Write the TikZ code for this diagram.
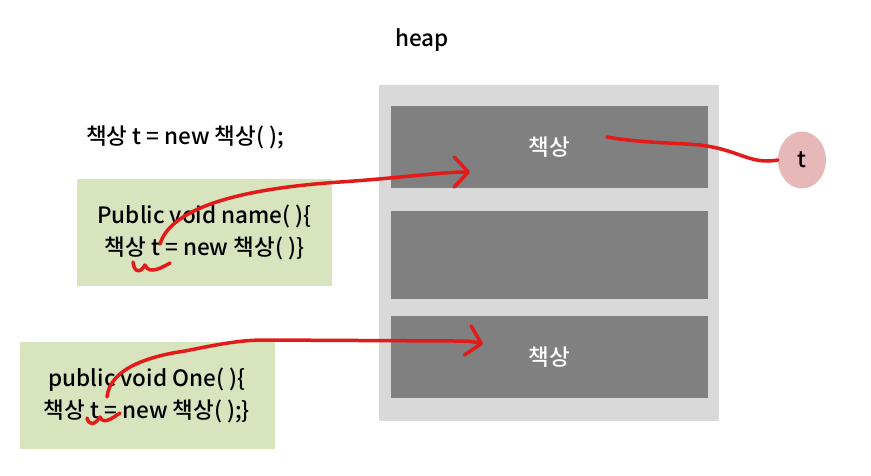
\documentclass[tikz,border=0pt]{standalone}
\usepackage{fontspec}
\setmainfont{Noto Sans CJK KR}[UprightFont=* Medium, BoldFont=* Bold]
\usepackage{xcolor}
\usetikzlibrary{arrows.meta, shapes.geometric}
\definecolor{heapbg}{HTML}{D9D9D9}
\definecolor{objgray}{HTML}{808080}
\definecolor{codegreen}{HTML}{D7E4BD}
\definecolor{refpink}{HTML}{E6B8B7}
\definecolor{penred}{HTML}{E21A1A}

\begin{document}
\begin{tikzpicture}[
  x=1pt, y=-1pt,
  every node/.style={font=\fontsize{22.5}{32}\selectfont},
  obj/.style={fill=objgray, minimum width=317pt, inner sep=0pt, text=white},
  code/.style={fill=codegreen, minimum width=255pt, minimum height=107pt, align=center, inner sep=0pt},
  pen/.style={line width=3.5pt, color=penred, line cap=round, line join=round},
  ar/.style={pen, -{Straight Barb[length=14pt, width=30pt, round]}},
]
\useasboundingbox (0,0) rectangle (871,475);

% Heap - objects
\node (title) at (422,40) {heap};
\node[fill=heapbg, minimum width=340pt, minimum height=336pt, inner sep=0pt] (heap) at (549,253) {};
\node[obj, minimum height=82pt] (desk1) at (549.5,147) {책상};
\node[obj, minimum height=88pt] (desk2) at (549.5,255) {};
\node[obj, minimum height=82pt] (desk3) at (549.5,357) {책상};
\node[ellipse, fill=refpink, minimum width=48pt, minimum height=57pt, inner sep=0pt] (tref) at (802,160) {t};

% Left side - code
\node (decl) at (185,137) {책상 t = new 책상( );};
\node[code] (name) at (204.5,232.5) {Public void name( )\{\\책상 t = new 책상( )\}};
\node[code] (one) at (147,395.5) {\raisebox{4pt}{public void One( )\{}\\\raisebox{4pt}{책상 t = new 책상( );\}}};

\coordinate (t1) at (160,244);
\coordinate (h1) at (470,172);
\coordinate (t2) at (107,397);
\coordinate (h3) at (483,344);
\coordinate (d1) at (607,137);

% Red pen marks
\draw[ar] (t1) .. controls (172,205) and (250,188) .. (340,182) .. controls (400,178) and (440,172) .. (h1);
\draw[ar] (t2) .. controls (110,368) and (150,356) .. (185,351) .. controls (220,344) and (240,340) .. (265,340) -- (455,341) .. controls (470,341) .. (h3);
\draw[pen] (d1) .. controls (640,143) and (680,143) .. (700,145) .. controls (740,150) and (750,165) .. (tref.west);
\draw[pen] (133,262) .. controls (134,272) and (140,274) .. (145,265) .. controls (148,272) and (155,272) .. (170,263);
\draw[pen] (87,418) .. controls (89,426) and (95,425) .. (100,417) .. controls (103,424) and (110,420) .. (120,413);
\end{tikzpicture}
\end{document}
